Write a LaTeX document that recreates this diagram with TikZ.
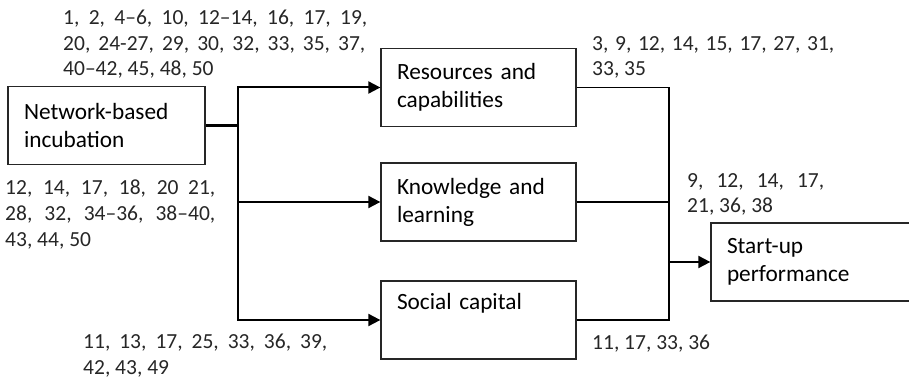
\documentclass[tikz,border=0pt]{standalone}
\usepackage{fontspec}
\setmainfont{Carlito}
\usepackage{tikz}
\usetikzlibrary{arrows.meta}
\newcommand{\refrow}[2]{\makebox[#1][s]{#2}}

\begin{document}
\begin{tikzpicture}[x=1pt, y=-1pt, font=\fontsize{21.5}{25.6}\selectfont,
  box/.style={shape=rectangle, draw=black!85, line width=1.3pt, minimum height=78pt, text width=163pt, inner xsep=16pt, align=left, font=\fontsize{23.3}{28}\selectfont},
  refs/.style={anchor=north west, inner sep=0pt, align=left, text=black!85},
  feed/.style={line width=2pt, -{Triangle[length=12pt,width=12pt]}},
  link/.style={line width=1.6pt}]
\useasboundingbox (0,0) rectangle (909,379);

\node[box, text width=165pt](net) at (106.5,125.5) {Network-based\\incubation};
\node[box](res) at (478.5,87.5) {Resources and\\capabilities};
\node[box](know) at (478.5,202) {Knowledge and\\learning};
\node[box](soc) at (478.5,320) {Social capital\\\strut};
\node[box, text width=178pt](start) at (816,262) {Start-up\\performance};

\coordinate (fork) at (238,125.5);
\coordinate (join) at (669,262);

\draw[line width=3pt] (net) -- (fork);
\draw[feed] (fork) |- (res);
\draw[feed] (fork) |- (know);
\draw[feed] (fork) |- (soc);
\draw[link] (res) -| (join);
\draw[link] (know) -| (join);
\draw[link] (soc) -| (join);
\draw[feed] (join) -- (start);

\node[refs](refsnet) at (63,10) {\refrow{304pt}{1, 2, 4–6, 10, 12–14, 16, 17, 19,}\\\refrow{302pt}{20, 24-27, 29, 30, 32, 33, 35, 37,}\\40–42, 45, 48, 50};
\node[refs](refsknow) at (5,180) {\refrow{210pt}{12, 14, 17, 18, 20 21,}\\\refrow{210pt}{28, 32, 34–36, 38–40,}\\43, 44, 50};
\node[refs](refssoc) at (83,334) {\refrow{244pt}{11, 13, 17, 25, 33, 36, 39,}\\42, 43, 49};
\node[refs](refsres) at (592,36) {\refrow{242pt}{3, 9, 12, 14, 15, 17, 27, 31,}\\33, 35};
\node[refs](refsperf) at (687,173) {\refrow{137pt}{9, 12, 14, 17,}\\21, 36, 38};
\node[refs](refsout) at (592,335) {11, 17, 33, 36};
\end{tikzpicture}
\end{document}
